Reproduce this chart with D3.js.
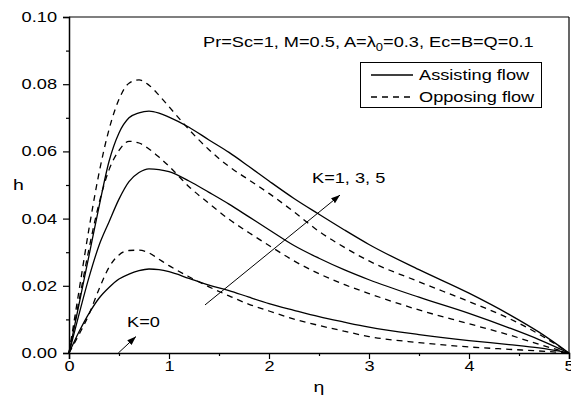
<!DOCTYPE html>
<html>
<head>
<meta charset="utf-8">
<script src="https://cdn.jsdelivr.net/npm/d3@7"></script>
<style>
  body { margin: 0; background: #fff; }
  svg { display: block; }
  text { font-family: "Liberation Sans", Arial, sans-serif; fill: #000; }
</style>
</head>
<body>
<svg id="chart" width="571" height="398"></svg>
<script>
// Similarity variable grid
const eta = [0, 0.1, 0.2, 0.3, 0.4, 0.5, 0.6, 0.7, 0.8, 0.9, 1.0, 1.2, 1.4, 1.6, 1.8, 2.0, 2.25, 2.5, 2.75, 3.0, 3.5, 4.0, 4.4, 4.7, 5.0];

// h(eta), assisting flow, K = 1, 3, 5
const assistK1 = [0, 0.0063, 0.0118, 0.0163, 0.0195, 0.0220, 0.0235, 0.0245, 0.0250, 0.0248, 0.0242, 0.0222, 0.0202, 0.0186, 0.0166, 0.0147, 0.0127, 0.0108, 0.0092, 0.0077, 0.0055, 0.0037, 0.0025, 0.0015, 0];
const assistK3 = [0, 0.0115, 0.0225, 0.0320, 0.0390, 0.0458, 0.0510, 0.0537, 0.0548, 0.0546, 0.0540, 0.0512, 0.0478, 0.0443, 0.0405, 0.0367, 0.0320, 0.0282, 0.0248, 0.0218, 0.0166, 0.0118, 0.0075, 0.0040, 0];
const assistK5 = [0, 0.0145, 0.0290, 0.0435, 0.0570, 0.0655, 0.0700, 0.0715, 0.0720, 0.0714, 0.0702, 0.0672, 0.0634, 0.0597, 0.0555, 0.0512, 0.0460, 0.0413, 0.0367, 0.0323, 0.0248, 0.0178, 0.0115, 0.0062, 0];

// h(eta), opposing flow, K = 1, 3, 5
const opposeK1 = [0, 0.0055, 0.0115, 0.0190, 0.0255, 0.0292, 0.0305, 0.0306, 0.0298, 0.0279, 0.0260, 0.0227, 0.0197, 0.0170, 0.0145, 0.0125, 0.0101, 0.0082, 0.0065, 0.0049, 0.0031, 0.0018, 0.0011, 0.0006, 0];
const opposeK3 = [0, 0.0155, 0.0310, 0.0445, 0.0545, 0.0603, 0.0630, 0.0625, 0.0607, 0.0583, 0.0556, 0.0495, 0.0445, 0.0398, 0.0358, 0.0320, 0.0274, 0.0236, 0.0204, 0.0177, 0.0128, 0.0087, 0.0054, 0.0026, 0];
const opposeK5 = [0, 0.0185, 0.0370, 0.0535, 0.0665, 0.0755, 0.0803, 0.0813, 0.0797, 0.0767, 0.0733, 0.0665, 0.0605, 0.0555, 0.0515, 0.0475, 0.0420, 0.0362, 0.0315, 0.0274, 0.0212, 0.0153, 0.0103, 0.0056, 0];

// Axis ticks
const xMajorTicks = [0, 1, 2, 3, 4, 5];
const xMinorTicks = [0.5, 1.5, 2.5, 3.5, 4.5];
const yMajorTicks = [0, 0.02, 0.04, 0.06, 0.08, 0.10];
const yMinorTicks = [0.01, 0.03, 0.05, 0.07, 0.09];

const legendLabels = ["Assisting flow", "Opposing flow"];

const W = 571, H = 398;
const margin = { left: 69, right: 2, top: 17, bottom: 45 };
const SX = 1.3; // horizontal stretch applied to all lettering

const svg = d3.select("#chart");
const x = d3.scaleLinear().domain([0, 5]).range([margin.left, W - margin.right]);
const y = d3.scaleLinear().domain([0, 0.1]).range([H - margin.bottom, margin.top]);

// Frame: top and right edges
svg.append("line").attr("x1", x(0)).attr("x2", x(5)).attr("y1", y(0.1)).attr("y2", y(0.1))
  .attr("stroke", "#000").attr("stroke-width", 1.2);
svg.append("line").attr("x1", x(5)).attr("x2", x(5)).attr("y1", y(0.1)).attr("y2", y(0))
  .attr("stroke", "#000").attr("stroke-width", 1.2);

function stretchLabels(g) {
  g.selectAll("text").each(function () {
    const t = d3.select(this);
    const tx = +t.attr("x") || 0;
    t.attr("x", tx / SX).attr("transform", `scale(${SX},1)`);
  });
}

// Left axis
const yAxis = svg.append("g").attr("transform", `translate(${x(0)},0)`)
  .call(d3.axisLeft(y).tickValues(yMajorTicks).tickFormat(d3.format(".2f")).tickSize(6).tickPadding(6));
svg.append("g").attr("transform", `translate(${x(0)},0)`)
  .call(d3.axisLeft(y).tickValues(yMinorTicks).tickFormat("").tickSize(3))
  .call(g => g.select(".domain").remove());

// Bottom axis
const xAxis = svg.append("g").attr("transform", `translate(0,${y(0)})`)
  .call(d3.axisBottom(x).tickValues(xMajorTicks).tickFormat(d3.format("d")).tickSize(6).tickPadding(2));
svg.append("g").attr("transform", `translate(0,${y(0)})`)
  .call(d3.axisBottom(x).tickValues(xMinorTicks).tickFormat("").tickSize(3))
  .call(g => g.select(".domain").remove());

svg.selectAll(".tick line").attr("stroke", "#000").attr("stroke-width", 1.2);
svg.selectAll(".domain").attr("stroke", "#000").attr("stroke-width", 1.5);
[yAxis, xAxis].forEach(g => {
  g.selectAll("text").attr("font-size", 14).attr("font-family", '"Liberation Sans", Arial, sans-serif').attr("fill", "#000");
  stretchLabels(g);
});

// Axis titles
svg.append("text").attr("transform", `translate(13,190) scale(${SX},1)`)
  .attr("font-size", 15).text("h");
svg.append("text").attr("transform", `translate(${x(2.5)},392) scale(${SX},1)`)
  .attr("text-anchor", "middle").attr("font-size", 15).text("η");

// Curves
const line = d3.line()
  .x((d, i) => x(eta[i]))
  .y(d => y(d))
  .curve(d3.curveMonotoneX);

const series = [
  { values: assistK1, dash: null },
  { values: assistK3, dash: null },
  { values: assistK5, dash: null },
  { values: opposeK1, dash: "6,5" },
  { values: opposeK3, dash: "6,5" },
  { values: opposeK5, dash: "6,5" }
];
svg.append("g").selectAll("path").data(series).join("path")
  .attr("d", d => line(d.values))
  .attr("fill", "none")
  .attr("stroke", "#000")
  .attr("stroke-width", 1.3)
  .attr("stroke-dasharray", d => d.dash);

// Parameter caption
const cap = svg.append("text").attr("transform", `translate(203,47) scale(${SX},1)`).attr("font-size", 14);
cap.append("tspan").text("Pr=Sc=1, M=0.5, A=λ");
cap.append("tspan").attr("font-size", 10).attr("dy", 4).text("0");
cap.append("tspan").attr("dy", -4).text("=0.3, Ec=B=Q=0.1");

// Legend
const lg = svg.append("g");
lg.append("rect").attr("x", 360.5).attr("y", 62.5).attr("width", 181).attr("height", 45)
  .attr("fill", "#fff").attr("stroke", "#000").attr("stroke-width", 1);
legendLabels.forEach((label, i) => {
  const ly = 75 + i * 22;
  lg.append("line").attr("x1", 371).attr("x2", 413).attr("y1", ly).attr("y2", ly)
    .attr("stroke", "#000").attr("stroke-width", 1.3)
    .attr("stroke-dasharray", i === 1 ? "6,5" : null);
  lg.append("text").attr("transform", `translate(419,${ly + 5}) scale(${SX},1)`)
    .attr("font-size", 14).text(label);
});

// Arrow marker
svg.append("defs").append("marker")
  .attr("id", "head").attr("viewBox", "0 0 10 10").attr("refX", 10).attr("refY", 5)
  .attr("markerWidth", 9).attr("markerHeight", 9).attr("markerUnits", "userSpaceOnUse")
  .attr("orient", "auto")
  .append("path").attr("d", "M0,1.5 L10,5 L0,8.5 Z").attr("fill", "#000");

// Direction of increasing K
svg.append("line")
  .attr("x1", x(1.36)).attr("y1", y(0.0143)).attr("x2", x(2.71)).attr("y2", y(0.047))
  .attr("stroke", "#000").attr("stroke-width", 1).attr("marker-end", "url(#head)");
svg.append("text").attr("transform", `translate(312,183) scale(${SX},1)`)
  .attr("font-size", 14).text("K=1, 3, 5");

svg.append("line")
  .attr("x1", x(0.493)).attr("y1", y(0)).attr("x2", x(0.67)).attr("y2", y(0.0049))
  .attr("stroke", "#000").attr("stroke-width", 1).attr("marker-end", "url(#head)");
svg.append("text").attr("transform", `translate(127,327) scale(${SX},1)`)
  .attr("font-size", 14).text("K=0");
</script>
</body>
</html>
